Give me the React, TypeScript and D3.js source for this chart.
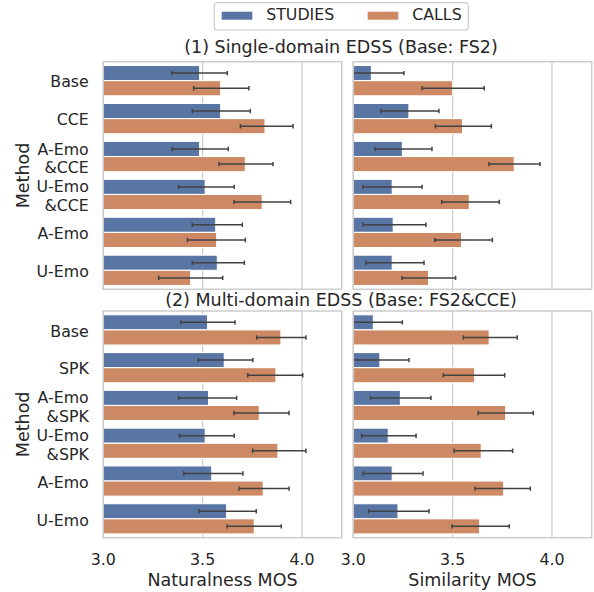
import React from "react";
import * as d3 from "d3";

const seriesNames = ["STUDIES", "CALLS"];
const seriesColors = ["#5975a4", "#cc8963"];

const methodsSingle = ["Base", "CCE", "A-Emo\n&CCE", "U-Emo\n&CCE", "A-Emo", "U-Emo"];
const methodsMulti = ["Base", "SPK", "A-Emo\n&SPK", "U-Emo\n&SPK", "A-Emo", "U-Emo"];

// (1) Single-domain, Naturalness MOS
const singleNatStudies = [3.485, 3.591, 3.485, 3.513, 3.566, 3.574];
const singleNatStudiesLo = [3.344, 3.448, 3.347, 3.379, 3.448, 3.448];
const singleNatStudiesHi = [3.624, 3.74, 3.629, 3.659, 3.7, 3.71];
const singleNatCalls = [3.591, 3.814, 3.715, 3.8, 3.571, 3.44];
const singleNatCallsLo = [3.455, 3.69, 3.582, 3.658, 3.423, 3.279];
const singleNatCallsHi = [3.733, 3.955, 3.854, 3.943, 3.715, 3.601];

// (1) Single-domain, Similarity MOS
const singleSimStudies = [3.091, 3.28, 3.247, 3.196, 3.201, 3.196];
const singleSimStudiesLo = [2.93, 3.139, 3.109, 3.049, 3.05, 3.064];
const singleSimStudiesHi = [3.255, 3.431, 3.396, 3.346, 3.366, 3.356];
const singleSimCalls = [3.5, 3.55, 3.81, 3.584, 3.545, 3.379];
const singleSimCallsLo = [3.346, 3.413, 3.683, 3.445, 3.41, 3.245];
const singleSimCallsHi = [3.659, 3.695, 3.94, 3.735, 3.7, 3.515];

// (2) Multi-domain, Naturalness MOS
const multiNatStudies = [3.525, 3.609, 3.53, 3.513, 3.546, 3.621];
const multiNatStudiesLo = [3.39, 3.478, 3.379, 3.384, 3.405, 3.482];
const multiNatStudiesHi = [3.663, 3.753, 3.671, 3.659, 3.703, 3.77];
const multiNatCalls = [3.894, 3.869, 3.785, 3.879, 3.805, 3.76];
const multiNatCallsLo = [3.772, 3.727, 3.658, 3.752, 3.683, 3.623];
const multiNatCallsHi = [4.02, 4.004, 3.935, 4.02, 3.935, 3.896];

// (2) Multi-domain, Similarity MOS
const multiSimStudies = [3.101, 3.134, 3.237, 3.176, 3.196, 3.225];
const multiSimStudiesLo = [2.955, 2.99, 3.087, 3.042, 3.049, 3.077];
const multiSimStudiesHi = [3.247, 3.28, 3.391, 3.316, 3.351, 3.381];
const multiSimCalls = [3.684, 3.611, 3.767, 3.644, 3.757, 3.636];
const multiSimCallsLo = [3.554, 3.453, 3.629, 3.507, 3.612, 3.497];
const multiSimCallsHi = [3.825, 3.762, 3.906, 3.802, 3.891, 3.785];

const xTicks = [3.0, 3.5, 4.0];
const xDomain = [3.0, 4.2];
const titles = ["(1) Single-domain EDSS (Base: FS2)", "(2) Multi-domain EDSS (Base: FS2&CCE)"];
const xLabels = ["Naturalness MOS", "Similarity MOS"];
const yLabel = "Method";

const FONT = "'DejaVu Sans', sans-serif";
const TEXT = "#262626";
const GRID = "#cccccc";

type Panel = {
  id: string;
  methods: string[];
  means: number[][];
  lo: number[][];
  hi: number[][];
  col: number;
  row: number;
};

const panels: Panel[] = [
  { id: "p00", methods: methodsSingle, means: [singleNatStudies, singleNatCalls], lo: [singleNatStudiesLo, singleNatCallsLo], hi: [singleNatStudiesHi, singleNatCallsHi], col: 0, row: 0 },
  { id: "p01", methods: methodsSingle, means: [singleSimStudies, singleSimCalls], lo: [singleSimStudiesLo, singleSimCallsLo], hi: [singleSimStudiesHi, singleSimCallsHi], col: 1, row: 0 },
  { id: "p10", methods: methodsMulti, means: [multiNatStudies, multiNatCalls], lo: [multiNatStudiesLo, multiNatCallsLo], hi: [multiNatStudiesHi, multiNatCallsHi], col: 0, row: 1 },
  { id: "p11", methods: methodsMulti, means: [multiSimStudies, multiSimCalls], lo: [multiSimStudiesLo, multiSimCallsLo], hi: [multiSimStudiesHi, multiSimCallsHi], col: 1, row: 1 },
];

const colX = [[103.3, 341.7], [353.3, 591.7]];
const rowY = [[61.7, 289.3], [311, 537.7]];

function PanelView({ p }: { p: Panel }) {
  const [x0, x1] = colX[p.col];
  const [y0, y1] = rowY[p.row];
  const x = d3.scaleLinear().domain(xDomain).range([x0, x1]);
  const y = d3.scaleBand<string>().domain(p.methods).range([y0, y1]).paddingInner(0.2).paddingOuter(0.1);
  const hue = d3.scaleBand<string>().domain(seriesNames).range([0, y.bandwidth()]);
  const cap = 2.2;
  return (
    <g>
      <defs>
        <clipPath id={"clip-" + p.id}>
          <rect x={x0} y={y0} width={x1 - x0} height={y1 - y0} />
        </clipPath>
      </defs>
      <rect x={x0} y={y0} width={x1 - x0} height={y1 - y0} fill="white" />
      {xTicks.map((t) => (
        <line key={t} x1={x(t)} x2={x(t)} y1={y0} y2={y1} stroke={GRID} strokeWidth={1.3} />
      ))}
      <g clipPath={`url(#clip-${p.id})`}>
        {p.methods.map((m, i) =>
          seriesNames.map((s, k) => {
            const by = (y(m) as number) + (hue(s) as number);
            const h = hue.bandwidth();
            return (
              <rect key={m + s} x={x(xDomain[0])} y={by} width={x(p.means[k][i]) - x(xDomain[0])} height={h}
                fill={seriesColors[k]} stroke="white" strokeWidth={1.1} />
            );
          })
        )}
        {p.methods.map((m, i) =>
          seriesNames.map((s, k) => {
            const cy = (y(m) as number) + (hue(s) as number) + hue.bandwidth() / 2;
            const a = x(p.lo[k][i]);
            const b = x(p.hi[k][i]);
            return (
              <g key={"e" + m + s} stroke="#424242" strokeWidth={1.5}>
                <line x1={a} x2={b} y1={cy} y2={cy} />
                <line x1={a} x2={a} y1={cy - cap} y2={cy + cap} />
                <line x1={b} x2={b} y1={cy - cap} y2={cy + cap} />
              </g>
            );
          })
        )}
      </g>
      <rect x={x0} y={y0} width={x1 - x0} height={y1 - y0} fill="none" stroke={GRID} strokeWidth={1.5} />
      {p.col === 0 &&
        p.methods.map((m) => {
          const lines = m.split("\n");
          const c = (y(m) as number) + y.bandwidth() / 2;
          return (
            <text key={"t" + m} x={x0 - 14.5} textAnchor="end" fontFamily={FONT} fontSize={15.8} fill={TEXT}>
              {lines.length === 1 ? (
                <tspan x={x0 - 14.5} y={c + 6.7}>{lines[0]}</tspan>
              ) : (
                lines.map((l, j) => (
                  <tspan key={j} x={x0 - 14.5} y={c - 2 + j * 18.3}>{l}</tspan>
                ))
              )}
            </text>
          );
        })}
      {p.col === 0 && (
        <text transform={`translate(28.5,${(y0 + y1) / 2}) rotate(-90)`} textAnchor="middle" fontFamily={FONT} fontSize={17.5} fill={TEXT}>
          {yLabel}
        </text>
      )}
      {p.row === 1 &&
        xTicks.map((t) => (
          <text key={"xt" + t} x={x(t)} y={565} textAnchor="middle" fontFamily={FONT} fontSize={15.8} fill={TEXT}>
            {d3.format(".1f")(t)}
          </text>
        ))}
      {p.row === 1 && (
        <text x={(x0 + x1) / 2} y={586} textAnchor="middle" fontFamily={FONT} fontSize={17.5} fill={TEXT}>
          {xLabels[p.col]}
        </text>
      )}
    </g>
  );
}

export default function App() {
  return (
    <svg width={594} height={592} style={{ position: "absolute", left: 0, top: 0, background: "white" }}>
      <rect width={594} height={592} fill="white" />
      {panels.map((p) => (
        <PanelView key={p.id} p={p} />
      ))}
      <text x={341} y={53.3} textAnchor="middle" fontFamily={FONT} fontSize={17.5} fill={TEXT}>{titles[0]}</text>
      <text x={341} y={305.5} textAnchor="middle" fontFamily={FONT} fontSize={17.5} fill={TEXT}>{titles[1]}</text>
      <g>
        <rect x={214.3} y={2.7} width={254} height={27.3} rx={3} fill="white" stroke={GRID} strokeWidth={1.2} />
        {seriesNames.map((s, k) => {
          const px = [221.7, 367.7][k];
          return (
            <g key={s}>
              <rect x={px} y={11.7} width={30.6} height={8} fill={seriesColors[k]} />
              <text x={px + 44.5} y={20} fontFamily={FONT} fontSize={15.8} fill={TEXT}>{s}</text>
            </g>
          );
        })}
      </g>
    </svg>
  );
}
